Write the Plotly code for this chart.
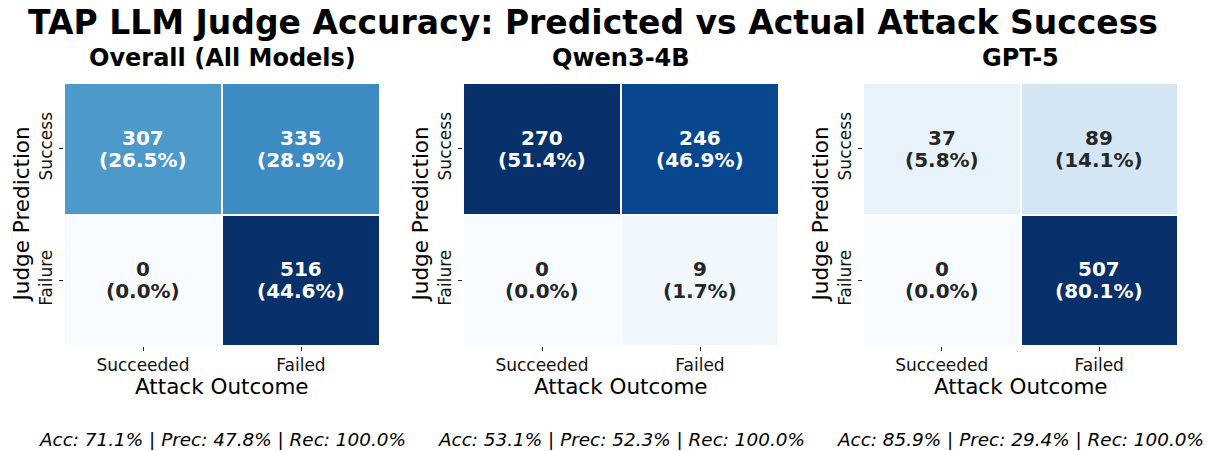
import plotly.graph_objects as go

# ---- data ----
panel_titles = ["Overall (All Models)", "Qwen3-4B", "GPT-5"]
x_labels = ["Succeeded", "Failed"]
y_labels = ["Success", "Failure"]
overall_counts = [[307, 335], [0, 516]]
qwen_counts = [[270, 246], [0, 9]]
gpt5_counts = [[37, 89], [0, 507]]
overall_pct = [[26.5, 28.9], [0.0, 44.6]]
qwen_pct = [[51.4, 46.9], [0.0, 1.7]]
gpt5_pct = [[5.8, 14.1], [0.0, 80.1]]
metrics = [
    "Acc: 71.1% | Prec: 47.8% | Rec: 100.0%",
    "Acc: 53.1% | Prec: 52.3% | Rec: 100.0%",
    "Acc: 85.9% | Prec: 29.4% | Rec: 100.0%",
]
main_title = "TAP LLM Judge Accuracy: Predicted vs Actual Attack Success"

counts_list = [overall_counts, qwen_counts, gpt5_counts]
pct_list = [overall_pct, qwen_pct, gpt5_pct]

# matplotlib "Blues"
blues_hex = ["#f7fbff", "#deebf7", "#c6dbef", "#9ecae1", "#6baed6",
             "#4292c6", "#2171b5", "#08519c", "#08306b"]
blues_scale = [[i / 8, c] for i, c in enumerate(blues_hex)]


def hex2rgb(h):
    return tuple(int(h[i:i + 2], 16) / 255 for i in (1, 3, 5))


def blues(t):
    t = min(max(t, 0), 1)
    pos = t * 8
    i = min(int(pos), 7)
    f = pos - i
    a, b = hex2rgb(blues_hex[i]), hex2rgb(blues_hex[i + 1])
    return tuple(a[k] + (b[k] - a[k]) * f for k in range(3))


def lum(rgb):
    def ch(c):
        return c / 12.92 if c <= 0.03928 else ((c + 0.055) / 1.055) ** 2.4
    r, g, b = (ch(c) for c in rgb)
    return 0.2126 * r + 0.7152 * g + 0.0722 * b


FONT = "DejaVu Sans"
W, H = 1207, 451


def px(xp):
    return xp / W


def py(yp):
    return 1 - yp / H


x_edges = [(64, 380), (463, 779), (863, 1178)]
y_top, y_bot = 83, 346
yd = [py(y_bot), py(y_top)]

fig = go.Figure()
annotations = []


def ann(x, y, text, size, weight="normal", angle=0, color="#000"):
    annotations.append(dict(x=x, y=y, xref="paper", yref="paper", text=text,
                            showarrow=False, xanchor="center", yanchor="middle",
                            textangle=angle,
                            font=dict(family=FONT, size=size, color=color, weight=weight)))


for k in range(3):
    xa = "x" if k == 0 else f"x{k + 1}"
    ya = "y" if k == 0 else f"y{k + 1}"
    z = counts_list[k]
    zmax = max(max(r) for r in z)
    zmin = min(min(r) for r in z)
    fig.add_trace(go.Heatmap(
        z=z, x=x_labels, y=y_labels, xaxis=xa, yaxis=ya,
        colorscale=blues_scale, zmin=zmin, zmax=zmax, showscale=False,
        xgap=2, ygap=2, hoverinfo="skip",
    ))
    for i, yl in enumerate(y_labels):
        for j, xl in enumerate(x_labels):
            t = (z[i][j] - zmin) / (zmax - zmin)
            col = "#262626" if lum(blues(t)) > 0.408 else "#ffffff"
            for txt, shift in ((f"{z[i][j]}", 11), (f"({pct_list[k][i][j]:.1f}%)", -11)):
                annotations.append(dict(
                    x=xl, y=yl, xref=xa, yref=ya, yshift=shift,
                    xanchor="center", yanchor="middle",
                    text=txt, showarrow=False,
                    font=dict(family=FONT, size=20, color=col, weight="bold"),
                ))
    x0, x1 = x_edges[k]
    xd = [px(x0), px(x1)]
    axis_common = dict(showgrid=False, zeroline=False, showline=False,
                       ticks="outside", ticklen=4, tickwidth=1, tickcolor="#222",
                       tickfont=dict(family=FONT, size=17, color="#111"))
    fig.update_layout(**{
        ("xaxis" if k == 0 else f"xaxis{k + 1}"): dict(
            domain=xd, anchor=ya, **axis_common),
        ("yaxis" if k == 0 else f"yaxis{k + 1}"): dict(
            domain=yd, anchor=xa, autorange="reversed", tickangle=-90,
            **axis_common),
    })
    cx = (x0 + x1) / 2
    ann(px(cx), py(58), panel_titles[k], 24, "bold")
    ann(px(cx), py(386), "Attack Outcome", 21.5)
    ann(px(x0 - 43), (yd[0] + yd[1]) / 2, "Judge Prediction", 21.5, angle=-90)
    ann(px(cx), py(439), f"<i>{metrics[k]}</i>", 18.4)

ann(px(593), py(22), main_title, 33, "bold")

fig.update_layout(width=W, height=H, margin=dict(l=0, r=0, t=0, b=0),
                  paper_bgcolor="white", plot_bgcolor="white",
                  annotations=annotations, showlegend=False)

fig.write_html("out.html", config={"displayModeBar": False},
               post_script="document.body.style.margin='0';document.body.style.overflow='hidden';")
